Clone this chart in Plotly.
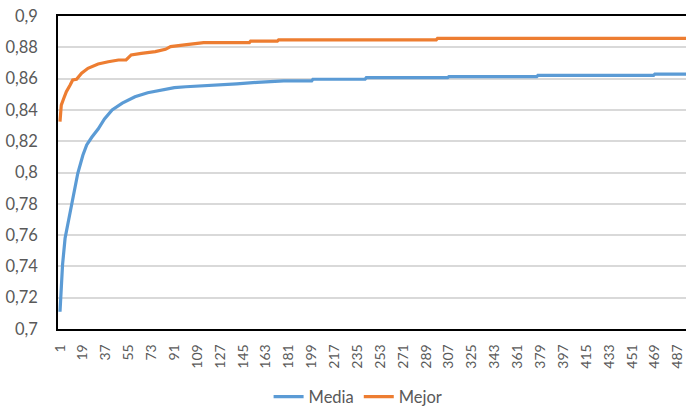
import plotly.graph_objects as go

# Iteration index (category axis) and fitness of the population
media_x = [1, 2, 3, 5, 8, 10, 11, 13, 15, 19, 22, 26, 31, 36, 42, 50, 60, 70, 81, 91,
           100, 114, 140, 156, 177, 199, 200, 241, 242, 306, 307, 376, 377, 468, 469, 500]
media_y = [0.711, 0.728, 0.741, 0.758, 0.770, 0.779, 0.781, 0.790, 0.7995, 0.811,
           0.8176, 0.8225, 0.8278, 0.8342, 0.8400, 0.8443, 0.8484, 0.8510, 0.8527, 0.8542,
           0.8548, 0.8553, 0.8566, 0.8576, 0.8585, 0.8585, 0.8596, 0.8596, 0.8606, 0.8606,
           0.8612, 0.8612, 0.8621, 0.8621, 0.8629, 0.8629]

mejor_x = [1, 2, 4, 6, 9, 11, 14, 18, 23, 31, 39, 47, 53, 57, 65, 76, 84, 88, 99, 114,
           150, 151, 172, 173, 297, 298, 500]
mejor_y = [0.8325, 0.843, 0.8474, 0.8516, 0.8559, 0.8591, 0.8596, 0.8634, 0.8666, 0.8693,
           0.8708, 0.8719, 0.8719, 0.8751, 0.8761, 0.8772, 0.8787, 0.8804, 0.8815, 0.8830,
           0.8830, 0.8840, 0.8840, 0.8848, 0.8848, 0.8857, 0.8857]

x_ticks = [1, 19, 37, 55, 73, 91, 109, 127, 145, 163, 181, 199, 217, 235, 253, 271,
           289, 307, 325, 343, 361, 379, 397, 415, 433, 451, 469, 487]
y_ticks = [0.70, 0.72, 0.74, 0.76, 0.78, 0.80, 0.82, 0.84, 0.86, 0.88, 0.90]
y_tick_labels = ["0,7", "0,72", "0,74", "0,76", "0,78", "0,8", "0,82", "0,84",
                 "0,86", "0,88", "0,9"]

FONT = "Lato"
TEXT = "#595959"

fig = go.Figure()
fig.add_trace(go.Scatter(x=media_x, y=media_y, mode="lines", name="Media",
                         line=dict(color="#5B9BD5", width=3.2)))
fig.add_trace(go.Scatter(x=mejor_x, y=mejor_y, mode="lines", name="Mejor",
                         line=dict(color="#ED7D31", width=3.2)))

fig.update_layout(
    width=686, height=407,
    margin=dict(l=58, r=0, t=16, b=78),
    paper_bgcolor="white", plot_bgcolor="white",
    font=dict(family=FONT, size=16.5, color=TEXT),
    showlegend=True,
    legend=dict(orientation="h", xref="container", x=0.522, xanchor="center",
                yref="container", y=0.025, yanchor="middle",
                font=dict(family=FONT, size=16.5, color=TEXT)),
)
fig.update_xaxes(
    range=[-0.57, 493.5],
    tickmode="array", tickvals=x_ticks, ticktext=[str(v) for v in x_ticks],
    tickangle=-90, tickfont=dict(family=FONT, size=14, color=TEXT),
    showgrid=False, zeroline=False,
    showline=True, linecolor="#000000", linewidth=1.5, mirror=True,
    ticks="", ticklabelstandoff=8,
)
fig.update_yaxes(
    range=[0.7, 0.9],
    tickmode="array", tickvals=y_ticks, ticktext=y_tick_labels,
    tickfont=dict(family=FONT, size=16.5, color=TEXT),
    showgrid=True, gridcolor="#D9D9D9", gridwidth=1.5, zeroline=False,
    showline=True, linecolor="#000000", linewidth=1.5, mirror=False,
    ticks="", ticklabelstandoff=15,
)

fig.write_html("out.html")
